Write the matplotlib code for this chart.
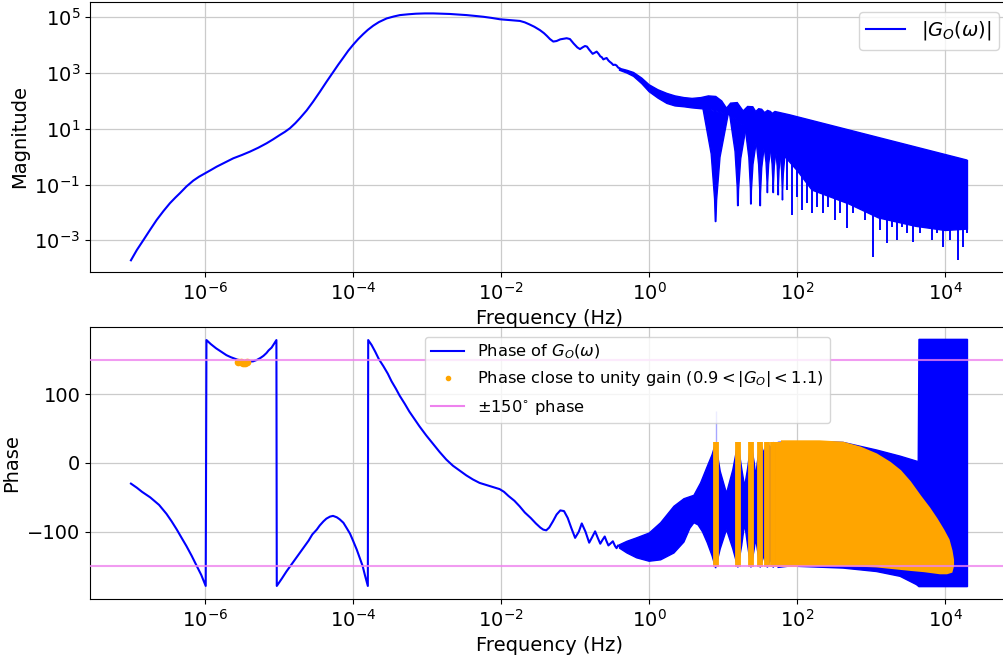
import numpy as np
import matplotlib
matplotlib.use("Agg")
import matplotlib.pyplot as plt
from matplotlib.lines import Line2D
from matplotlib.ticker import NullLocator

plt.rcParams['font.size'] = 14
plt.rcParams['font.family'] = ['DejaVu Sans']

# ------------------------------------------------------------------ data
# (all frequencies as log10(Hz); magnitudes as log10|G|; phases in degrees)

# magnitude: smooth low-frequency part
mag_line_lgf = [-7.0, -6.92, -6.833, -6.74, -6.652, -6.56, -6.473, -6.40, -6.338, -6.25,
                -6.158, -6.08, -6.0, -5.92, -5.842, -5.73, -5.618, -5.50, -5.392, -5.28,
                -5.167, -5.08, -4.987, -4.92, -4.852, -4.78, -4.717, -4.626, -4.54,
                -4.447, -4.36, -4.267, -4.20, -4.132, -4.065, -3.997, -3.93, -3.862,
                -3.80, -3.727, -3.65, -3.546, -3.45, -3.366, -3.25, -3.15, -3.03,
                -2.916, -2.80, -2.69, -2.58, -2.465, -2.35, -2.24, -2.13, -2.015,
                -1.88, -1.745, -1.68, -1.62, -1.55, -1.475, -1.42, -1.38, -1.34,
                -1.295, -1.25, -1.20, -1.114, -1.07, -1.02, -0.97, -0.934, -0.90,
                -0.867, -0.84, -0.81, -0.763, -0.735, -0.709, -0.68, -0.66, -0.64,
                -0.619, -0.595, -0.574, -0.55, -0.53, -0.51, -0.485, -0.46, -0.44,
                -0.42, -0.40]
mag_line_lgm = [-3.72, -3.35, -3.0, -2.62, -2.27, -1.95, -1.67, -1.47, -1.31, -1.07,
                -0.86, -0.72, -0.60, -0.48, -0.36, -0.21, -0.06, 0.06, 0.18, 0.32,
                0.48, 0.62, 0.78, 0.89, 1.02, 1.20, 1.38, 1.66, 1.97,
                2.33, 2.68, 3.04, 3.30, 3.55, 3.80, 4.02, 4.22, 4.40,
                4.55, 4.70, 4.83, 4.96, 5.03, 5.08, 5.11, 5.13, 5.14,
                5.14, 5.13, 5.12, 5.10, 5.08, 5.05, 5.02, 4.98, 4.93,
                4.90, 4.87, 4.82, 4.75, 4.66, 4.54, 4.43, 4.33, 4.22,
                4.13, 4.15, 4.21, 4.25, 4.22, 4.06, 3.92, 3.86, 3.92,
                3.97, 3.95, 3.84, 3.69, 3.73, 3.77, 3.68, 3.60, 3.57,
                3.49, 3.52, 3.54, 3.45, 3.40, 3.36, 3.29, 3.30, 3.27,
                3.20, 3.17]

# magnitude: dense oscillating band (upper and lower edges)
mag_hi_lgf = [-0.40, -0.30, -0.21, -0.10, 0.0, 0.12, 0.24, 0.35, 0.47, 0.58, 0.70,
              0.80, 0.90, 0.98, 1.045, 1.10, 1.19, 1.27, 1.33, 1.40, 1.44, 1.48,
              1.52, 1.56, 1.60, 1.64, 1.66, 1.70, 1.80, 1.90, 4.29, 4.30]
mag_hi_lgm = [3.17, 3.10, 3.02, 2.82, 2.58, 2.40, 2.27, 2.18, 2.12, 2.09, 2.12,
              2.18, 2.16, 2.00, 1.74, 1.92, 1.94, 1.64, 1.80, 1.79, 1.62, 1.72,
              1.70, 1.58, 1.66, 1.62, 1.55, 1.62, 1.56, 1.50, -0.12, -0.14]
mag_lo_lgf = [-0.40, -0.30, -0.21, -0.10, 0.0, 0.12, 0.24, 0.35, 0.47, 0.58, 0.70,
              0.80, 0.90, 1.045, 1.12, 1.29, 1.44, 1.55, 1.64, 1.72, 1.80, 1.90,
              2.0, 2.2, 2.7, 3.1, 3.6, 4.0, 4.30]
mag_lo_lgm = [3.10, 3.0, 2.88, 2.62, 2.33, 2.10, 1.91, 1.82, 1.79, 1.75, 1.72,
              1.70, 1.65, 1.55, 1.45, 1.10, 0.70, 0.50, 0.40, 0.30, 0.10, -0.20,
              -0.50, -1.20, -1.70, -2.20, -2.50, -2.65, -2.60]

# magnitude notches (comb) and deep spikes
notch_hz = [7.9, 15.8, 23.7, 31.6, 39.5, 47.4, 55.3, 63.2]
notch_lgm = [-2.33, -1.76, -1.70, -1.76, -1.29, -1.29, -1.37, -1.55]
notch_halfw = [0.17, 0.11, 0.08, 0.06, 0.05, 0.042, 0.036, 0.032]
spike_lgf = [1.865, 1.933, 2.001, 2.060, 2.128, 2.195, 2.263, 2.352, 2.420, 2.510,
             2.578, 2.668, 2.758, 2.848, 2.915, 2.983, 3.028, 3.118, 3.217, 3.276,
             3.344, 3.411, 3.479, 3.568, 3.658, 3.749, 3.816, 3.884, 3.973, 4.064,
             4.167, 4.243, 4.289]
spike_lgm = [-1.20, -2.09, -1.44, -1.91, -1.67, -2.03, -1.79, -2.03, -1.79, -2.27,
             -2.03, -2.57, -2.03, -1.79, -2.27, -1.62, -3.59, -2.63, -3.11, -2.51,
             -2.99, -2.51, -2.75, -3.05, -2.75, -2.51, -2.99, -2.75, -3.23, -2.99,
             -3.71, -3.23, -2.75]

# phase: smooth low-frequency part
ph_line_lgf = [-7.0, -6.92, -6.85, -6.74, -6.62, -6.52, -6.45, -6.38, -6.31, -6.25,
               -6.18, -6.12, -6.05, -5.99, -5.98, -5.92, -5.85, -5.78, -5.71, -5.65,
               -5.55, -5.48, -5.42, -5.35, -5.30, -5.25, -5.21, -5.17, -5.14, -5.10,
               -5.07, -5.035, -5.03, -4.96, -4.90, -4.84, -4.72, -4.66, -4.60, -4.55,
               -4.49, -4.45, -4.40, -4.36, -4.31, -4.27, -4.22, -4.18, -4.13, -4.09,
               -4.04, -4.0, -3.95, -3.91, -3.87, -3.84, -3.80, -3.795, -3.75, -3.70,
               -3.65, -3.59, -3.53, -3.48, -3.42, -3.37, -3.30, -3.24, -3.17, -3.10,
               -3.01, -2.92, -2.83, -2.74, -2.65, -2.56, -2.47, -2.38, -2.29, -2.20,
               -2.11, -2.02, -1.96, -1.90, -1.82, -1.75, -1.68, -1.60, -1.53, -1.47,
               -1.43, -1.39, -1.35, -1.30, -1.25, -1.20, -1.15, -1.10, -1.05, -1.00,
               -0.95, -0.91, -0.86, -0.81, -0.77, -0.73, -0.69, -0.66, -0.63, -0.60,
               -0.575, -0.55, -0.52, -0.49, -0.46, -0.44, -0.42, -0.40]
ph_line_deg = [-30, -36, -42, -50, -61, -74, -85, -97, -110, -121,
               -135, -148, -163, -179, 179, 173, 167, 162, 157, 154,
               150, 148, 147.5, 148, 150, 153, 156, 160, 164, 168,
               173, 179, -179, -168, -158, -149, -131, -122, -113, -104,
               -97, -91, -85, -81, -78, -77, -79, -82, -87, -94,
               -103, -113, -126, -138, -150, -163, -179, 179, 172, 162,
               151, 141, 130, 119, 108, 98, 86, 75, 64, 53,
               40, 28, 16, 5, -4, -11, -18, -24, -29, -32,
               -35, -38, -42, -48, -55, -63, -72, -80, -88, -94,
               -97, -98, -94, -85, -75, -69, -70, -80, -95, -109,
               -100, -88, -100, -116, -108, -99.5, -110, -117.5, -112, -107,
               -114, -120, -117, -114, -121, -124, -120, -121]

# phase: dense band (upper and lower edges)
ph_hi_lgf = [-0.40, -0.30, -0.17, 0.0, 0.155, 0.335, 0.47, 0.605, 0.695, 0.785, 0.85,
             0.898, 0.96, 1.045, 1.13, 1.199, 1.25, 1.29, 1.33, 1.375, 1.42, 1.44,
             1.46, 1.50, 1.55, 1.597, 1.64, 1.676, 1.71, 1.743, 1.90, 2.30, 2.62,
             3.07, 3.39, 3.635, 3.645, 4.30]
ph_hi_deg = [-119, -114, -109, -102, -87, -63, -52, -47, -29, -5, 12,
             29, -12, -44, -10, 29, -8, -34, -8, 29, 0, -20,
             0, 29, 15, 29, 22, 30, 27, 30, 31, 31, 30,
             19, 10, 2, 180, 180]
ph_lo_lgf = [-0.40, -0.30, -0.17, 0.0, 0.155, 0.335, 0.47, 0.55, 0.605, 0.66, 0.72,
             0.785, 0.85, 0.898, 0.96, 1.045, 1.13, 1.199, 1.25, 1.29, 1.33, 1.375,
             1.42, 1.44, 1.46, 1.50, 1.55, 1.597, 1.64, 1.676, 1.71, 1.743, 1.90,
             2.62, 3.07, 3.39, 3.61, 3.645, 4.30]
ph_lo_deg = [-124, -131, -138, -143, -141, -131, -115, -95, -87, -90, -100,
             -116, -135, -153, -125, -97, -125, -152, -120, -88, -120, -152,
             -125, -110, -125, -152, -135, -152, -140, -152, -145, -152, -150,
             -153, -158, -165, -177, -180, -180]

# phase close to unity gain (orange points)
unity_pts_lgf = [-5.55, -5.52, -5.49, -5.46, -5.43]
unity_pts_deg = [147.5, 146.5, 146.0, 146.3, 147.2]
unity_col_hz = [7.9, 15.8, 23.7, 31.6, 39.5, 47.4, 55.3, 63.2, 71.1, 79.0, 86.9, 94.8]
unity_col_top = 30
unity_col_bot = -152
unity_hi_lgf = [1.80, 2.30, 2.62, 2.85, 3.07, 3.25, 3.39, 3.52, 3.66, 3.78, 3.88,
                3.97, 4.04, 4.08, 4.10, 4.10, 4.08]
unity_hi_deg = [31, 31, 29, 22, 12, 0, -12, -28, -49, -66, -82,
                -98, -112, -128, -141, -150, -158]
unity_lo_lgf = [1.80, 2.62, 3.07, 3.52, 3.72, 3.93, 4.02]
unity_lo_deg = [-148, -148, -150, -155, -157, -160, -160]

xtick_vals = [1e-6, 1e-4, 1e-2, 1e0, 1e2, 1e4]
mag_ytick_vals = [1e-3, 1e-1, 1e1, 1e3, 1e5]
ph_ytick_vals = [-100, 0, 100]

# ------------------------------------------------------------------ figure
BLUE = 'blue'
ORANGE = 'orange'
VIOLET = 'violet'
GRID = '#cbcbcb'

fig = plt.figure(figsize=(10.04, 6.58), dpi=100)
W, H = 1004.0, 658.0
ax1 = fig.add_axes([90 / W, 1 - 272 / H, 919 / W, 270 / H])
ax2 = fig.add_axes([90 / W, 1 - 599 / H, 919 / W, 272 / H])

p10 = lambda a: np.power(10.0, np.asarray(a, dtype=float))

# ---- magnitude
ax1.plot(p10(mag_line_lgf), p10(mag_line_lgm), color=BLUE, lw=1.5, zorder=3)
bx = np.concatenate([mag_hi_lgf, mag_lo_lgf[::-1]])
by = np.concatenate([mag_hi_lgm, mag_lo_lgm[::-1]])
ax1.fill(p10(bx), p10(by), facecolor=BLUE, edgecolor=BLUE, lw=1.0, zorder=3)

for hz, d, w in zip(notch_hz, notch_lgm, notch_halfw):
    c = np.log10(hz)
    bl = np.interp(c - w, mag_lo_lgf, mag_lo_lgm)
    br = np.interp(c + w, mag_lo_lgf, mag_lo_lgm)
    xs = [c - w, c - 0.35 * w, c - 0.08 * w, c - 0.004, c + 0.004, c + 0.08 * w, c + 0.35 * w, c + w]
    ys = [bl, bl - 0.4 * (bl - d), bl - 0.8 * (bl - d), d, d,
          br - 0.8 * (br - d), br - 0.4 * (br - d), br]
    ax1.fill(p10(xs), p10(ys), facecolor=BLUE, edgecolor=BLUE, lw=1.0, zorder=3)

spike_base = np.interp(spike_lgf, mag_lo_lgf, mag_lo_lgm) + 0.3
ax1.vlines(p10(spike_lgf), p10(spike_base), p10(spike_lgm), color=BLUE, lw=1.4, zorder=3)

ax1.set_xscale('log')
ax1.set_yscale('log')
ax1.set_xlim(10 ** -7.553, 10 ** 4.861)
ax1.set_ylim(10 ** -4.14, 10 ** 5.55)
ax1.set_xticks(xtick_vals)
ax1.set_yticks(mag_ytick_vals)
ax1.xaxis.set_minor_locator(NullLocator())
ax1.yaxis.set_minor_locator(NullLocator())
ax1.grid(True, color=GRID, lw=0.9)
ax1.set_axisbelow(True)
ax1.set_xlabel('Frequency (Hz)')
ax1.set_ylabel('Magnitude')
ax1.legend(handles=[Line2D([], [], color=BLUE, lw=1.5)],
           labels=[r'$|G_O(\omega)|$'], loc='upper right')

# ---- phase
ax2.plot(p10(ph_line_lgf), ph_line_deg, color=BLUE, lw=1.5, zorder=3)
px = np.concatenate([ph_hi_lgf, ph_lo_lgf[::-1]])
py = np.concatenate([ph_hi_deg, ph_lo_deg[::-1]])
ax2.fill(p10(px), py, facecolor=BLUE, edgecolor=BLUE, lw=1.0, zorder=3)
ax2.vlines([unity_col_hz[0]], [29], [75], color=BLUE, lw=1.0, alpha=0.35, zorder=3)

ax2.vlines(unity_col_hz, unity_col_bot, unity_col_top, color=ORANGE, lw=4.2, zorder=4)
ux = np.concatenate([unity_hi_lgf, unity_lo_lgf[::-1]])
uy = np.concatenate([unity_hi_deg, unity_lo_deg[::-1]])
ax2.fill(p10(ux), uy, facecolor=ORANGE, edgecolor=ORANGE, lw=2.0, zorder=4)
ax2.plot(p10(unity_pts_lgf), unity_pts_deg, ls='', marker='o', ms=4.5,
         color=ORANGE, zorder=4)

ax2.axhline(150, color=VIOLET, lw=1.5, alpha=0.8, zorder=5)
ax2.axhline(-150, color=VIOLET, lw=1.5, alpha=0.8, zorder=5)

ax2.set_xscale('log')
ax2.set_xlim(10 ** -7.553, 10 ** 4.861)
ax2.set_ylim(-198, 198)
ax2.set_xticks(xtick_vals)
ax2.set_yticks(ph_ytick_vals)
ax2.xaxis.set_minor_locator(NullLocator())
ax2.grid(True, color=GRID, lw=0.9)
ax2.set_axisbelow(True)
ax2.set_xlabel('Frequency (Hz)')
ax2.set_ylabel('Phase')

handles = [Line2D([], [], color=BLUE, lw=1.5),
           Line2D([], [], ls='', marker='.', ms=6, color=ORANGE),
           Line2D([], [], color=VIOLET, lw=1.5)]
labels = [r'Phase of $G_O(\omega)$',
          r'Phase close to unity gain ($0.9 < |G_O| < 1.1$)',
          r'$\pm150^{\circ}$ phase']
leg = ax2.legend(handles=handles, labels=labels, fontsize='small',
                 loc='upper left', bbox_to_anchor=((425 - 90) / 919.0, (599 - 336.5) / 272.0),
                 borderaxespad=0.0)
leg.set_zorder(10)

fig.savefig('out.png', dpi=100)
